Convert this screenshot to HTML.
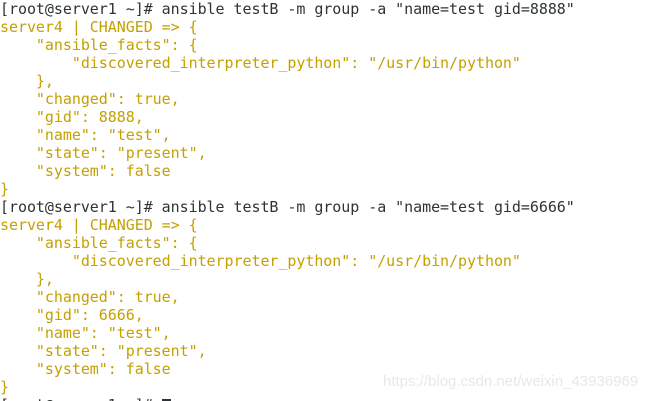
<!DOCTYPE html>
<html><head><meta charset="utf-8"><style>
html,body{margin:0;padding:0;background:#fff;width:659px;height:401px;overflow:hidden}
pre{margin:0;padding:0;font-family:"DejaVu Sans Mono","Liberation Mono",monospace;font-size:15px;line-height:18px;letter-spacing:-0.05px;color:#2e3436;white-space:pre}
.y{color:#c4a000}
.c{display:inline-block;width:9px;height:13px;background:#2e3436;vertical-align:-2px}
.wm{position:absolute;left:383px;top:373px;font-family:"Liberation Sans",sans-serif;font-size:15px;color:#e8e8e8}
</style></head><body>
<pre>[root@server1 ~]# ansible testB -m group -a "name=test gid=8888"
<span class="y">server4 | CHANGED =&gt; {
    "ansible_facts": {
        "discovered_interpreter_python": "/usr/bin/python"
    },
    "changed": true,
    "gid": 8888,
    "name": "test",
    "state": "present",
    "system": false
}</span>
[root@server1 ~]# ansible testB -m group -a "name=test gid=6666"
<span class="y">server4 | CHANGED =&gt; {
    "ansible_facts": {
        "discovered_interpreter_python": "/usr/bin/python"
    },
    "changed": true,
    "gid": 6666,
    "name": "test",
    "state": "present",
    "system": false
}</span>
[root@server1 ~]# <span class="c"></span></pre>
<div class="wm">https://blog.csdn.net/weixin_43936969</div>
</body></html>
